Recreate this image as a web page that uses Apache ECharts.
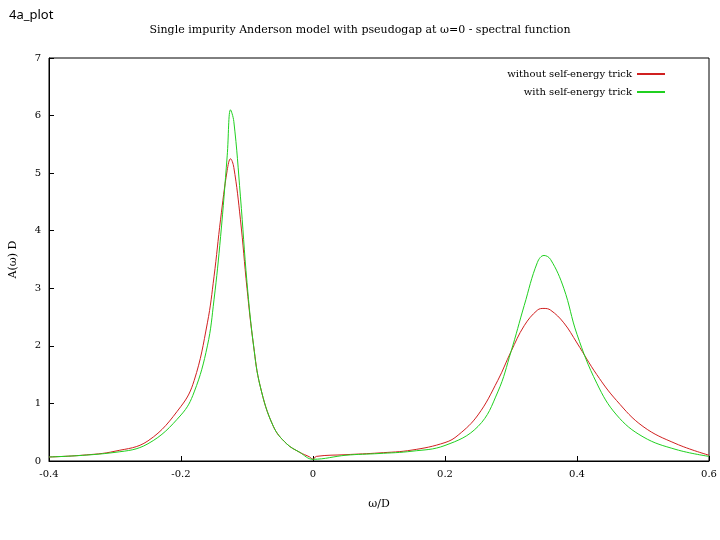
<!DOCTYPE html><html><head><meta charset="utf-8"><script src="https://cdn.jsdelivr.net/npm/echarts@6/dist/echarts.min.js"></script></head><body style="margin:0;background:#fff"><div id="c" style="width:720px;height:540px"></div><script>
const redX=[-0.4,-0.35,-0.3,-0.25,-0.2,-0.18,-0.16,-0.15,-0.14,-0.13,-0.125,-0.12,-0.11,-0.1,-0.09,-0.08,-0.06,-0.04,-0.02,-0.005,0,0.005,0.05,0.1,0.15,0.2,0.22,0.25,0.28,0.3,0.32,0.34,0.35,0.36,0.38,0.4,0.43,0.46,0.5,0.55,0.6];
const redY=[0.07,0.1,0.17,0.35,0.95,1.4,2.4,3.2,4.2,5.05,5.25,5.1,4.2,3.0,2.0,1.3,0.6,0.3,0.15,0.07,0.03,0.08,0.11,0.14,0.19,0.32,0.45,0.8,1.4,1.9,2.35,2.62,2.65,2.62,2.4,2.05,1.5,1.05,0.6,0.3,0.1];
const greenX=[-0.4,-0.3,-0.25,-0.2,-0.18,-0.16,-0.15,-0.14,-0.13,-0.125,-0.12,-0.11,-0.1,-0.09,-0.08,-0.06,-0.04,-0.02,0,0.05,0.1,0.15,0.2,0.25,0.28,0.3,0.32,0.34,0.35,0.36,0.38,0.4,0.43,0.46,0.5,0.55,0.6];
const greenY=[0.07,0.15,0.3,0.8,1.2,2.0,2.8,3.9,5.3,6.1,5.9,4.6,3.1,2.0,1.3,0.6,0.3,0.15,0.03,0.1,0.13,0.17,0.27,0.6,1.2,1.9,2.7,3.45,3.57,3.5,3.0,2.2,1.35,0.8,0.42,0.2,0.08];
const xTicks=['-0.4','-0.2','0','0.2','0.4','0.6'];
const f='"DejaVu Serif", serif';
const ch=echarts.init(document.getElementById('c'));
const ax={axisLine:{onZero:false,lineStyle:{color:'#000'}},axisTick:{inside:true,lineStyle:{color:'#000'}},splitLine:{show:false},axisLabel:{color:'#000',fontFamily:f,fontSize:10}};
ch.setOption({animation:false,
title:[{text:'4a_plot',left:4,top:4,textStyle:{fontSize:13,fontWeight:'normal',color:'#000',fontFamily:'"Noto Sans"'}},
{text:'Single impurity Anderson model with pseudogap at ω=0 - spectral function',left:'center',top:20,textStyle:{fontSize:11,fontWeight:'normal',color:'#000',fontFamily:f}}],
legend:{right:50,top:64,orient:'vertical',align:'right',itemWidth:28,itemHeight:2,itemGap:8,icon:'rect',textStyle:{fontFamily:f,fontSize:10,color:'#000'},data:['without self-energy trick','with self-energy trick']},
grid:{left:48,right:11,top:58,bottom:79,show:true,borderColor:'#000',backgroundColor:'#fff'},
xAxis:Object.assign({type:'value',min:-0.4,max:0.6,interval:0.2,name:'ω/D',nameLocation:'middle',nameGap:38,nameTextStyle:{fontFamily:f,fontSize:11,color:'#000'}},ax,{axisLabel:Object.assign({},ax.axisLabel,{formatter:v=>xTicks[Math.round((v+0.4)/0.2)]})}),
yAxis:Object.assign({type:'value',min:0,max:7,interval:1,name:'A(ω) D',nameLocation:'middle',nameGap:30,nameTextStyle:{fontFamily:f,fontSize:11,color:'#000'}},ax),
series:[{name:'without self-energy trick',type:'line',smooth:0.4,symbol:'none',color:'#d02020',lineStyle:{width:1},data:redX.map((x,i)=>[x,redY[i]])},
{name:'with self-energy trick',type:'line',smooth:0.4,symbol:'none',color:'#20d020',lineStyle:{width:1},data:greenX.map((x,i)=>[x,greenY[i]])}]});
</script></body></html>
